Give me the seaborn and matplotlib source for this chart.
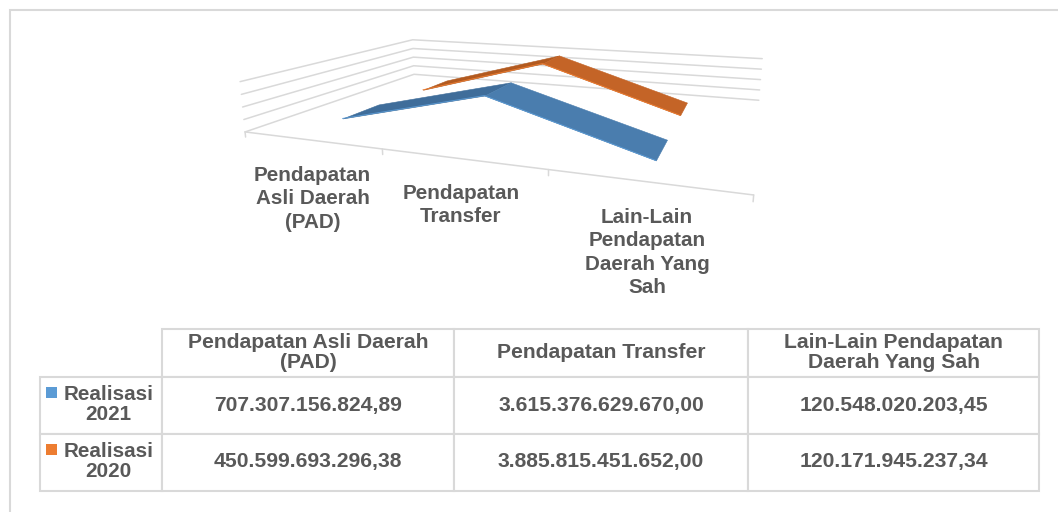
import numpy as np
import matplotlib
matplotlib.use('Agg')
import matplotlib.pyplot as plt
import seaborn as sns
from mpl_toolkits.mplot3d.art3d import Poly3DCollection

# Data
categories = ['Pendapatan Asli Daerah\n(PAD)', 'Pendapatan Transfer', 'Lain-Lain Pendapatan\nDaerah Yang Sah']
axis_labels = ['Pendapatan\nAsli Daerah\n(PAD)', 'Pendapatan\nTransfer', 'Lain-Lain\nPendapatan\nDaerah Yang\nSah']
realisasi_2021 = [707307156824.89, 3615376629670.00, 120548020203.45]
realisasi_2020 = [450599693296.38, 3885815451652.00, 120171945237.34]
series_names = ['Realisasi\n2021', 'Realisasi\n2020']

# Style
GREY = '#d9d9d9'
TEXT = '#595959'
Z_TOP = 4.057e12
W, H = 1058, 512

sns.set_theme(style='white')
plt.rcParams['font.family'] = ['Liberation Sans', 'DejaVu Sans']

fig = plt.figure(figsize=(W / 100, H / 100), dpi=100, facecolor='white')

# 3D line chart, camera fitted to the reference
ax = fig.add_axes([262.8 / W, 155.6 / H, 515 / W, 515 / H], projection='3d')
ax.set_xlim(0, 3, view_margin=0)
ax.set_ylim(0, 1, view_margin=0)
ax.set_zlim(0, Z_TOP, view_margin=0)
ax.set_box_aspect((9.3505, 6.4028, 1))
ax.view_init(elev=12.407, azim=-69.576, roll=-0.031)
ax.set_proj_type('persp', focal_length=0.2256)
ax.set_axis_off()
ax.patch.set_alpha(0)
ax.computed_zorder = False

# Wall gridlines and category axis
for level in np.linspace(0, Z_TOP, 5):
    ax.plot([0, 0, 3], [0, 1, 1], [level, level, level], color=GREY, lw=1.1, zorder=1, clip_on=False)
ax.plot([0, 3], [0, 0], [0, 0], color=GREY, lw=1.1, zorder=1, clip_on=False)
for tick in range(4):
    ax.plot([tick, tick], [0, 0], [0, -0.42e12], color=GREY, lw=1.1, zorder=1, clip_on=False)


def ribbon(values, depth, left_col, right_col, edge_col, z):
    xs = np.arange(len(values)) + 0.5
    for i, col in zip(range(len(values) - 1), [left_col, right_col]):
        quad = [(xs[i], depth[0], values[i]), (xs[i + 1], depth[0], values[i + 1]),
                (xs[i + 1], depth[1], values[i + 1]), (xs[i], depth[1], values[i])]
        ax.add_collection3d(Poly3DCollection([quad], facecolors=col, edgecolors=col, linewidths=0.4, zorder=z))
    ax.plot(xs, [depth[0]] * len(xs), values, color=edge_col, lw=0.6, zorder=z + 0.5)


ribbon(realisasi_2020, (0.6533, 0.8486), '#b25a20', '#c46427', '#ed7d31', 2)
ribbon(realisasi_2021, (0.1528, 0.3520), '#3f6d9a', '#4a7dae', '#5b9bd5', 3)

# Everything else sits on a pixel canvas
over = fig.add_axes([0, 0, 1, 1], facecolor='none')
over.set_xlim(0, W)
over.set_ylim(H, 0)
over.axis('off')

# Chart frame
over.plot([9.5, 9.5, W], [H, 10, 10], color=GREY, lw=1.5, solid_joinstyle='miter')

# Category labels under the axis
for label, x, y in zip(axis_labels, [312.5, 461, 647], [199, 205, 252.5]):
    over.text(x, y, label, ha='center', va='center', fontsize=14.9, fontweight='bold', color=TEXT, linespacing=1.28)

# Data table
def fmt(v):
    return f'{v:,.2f}'.replace(',', 'x').replace('.', ',').replace('x', '.')


cells = [[''] + categories,
         [''] + [fmt(v) for v in realisasi_2021],
         [''] + [fmt(v) for v in realisasi_2020]]
col_w = [122, 292, 294, 291]
row_h = [48, 57, 57]
tab = over.table(cellText=cells, cellLoc='center',
                 bbox=[40 / W, 1 - 490.5 / H, sum(col_w) / W, sum(row_h) / H])
tab.auto_set_font_size(False)
for (r, c), cell in tab.get_celld().items():
    cell.set_width(col_w[c])
    cell.set_height(row_h[r])
    cell.set_edgecolor(GREY)
    cell.set_linewidth(1.5)
    cell.PAD = 0.01
    txt = cell.get_text()
    txt.set_fontsize(15.2)
    txt.set_fontweight('bold')
    txt.set_color(TEXT)
    txt.set_linespacing(1.0)
tab[0, 0].visible_edges = ''

# Row labels with legend keys
for name, y, key_col in zip(series_names, [404.5, 461.5], ['#5b9bd5', '#ed7d31']):
    over.text(108.5, y, name, ha='center', va='center', fontsize=14.9, fontweight='bold', color=TEXT, linespacing=1.13)
    over.add_patch(plt.Rectangle((46, y - 18), 11, 11, facecolor=key_col, edgecolor='none'))

fig.savefig('out.png', dpi=100, facecolor='white')
